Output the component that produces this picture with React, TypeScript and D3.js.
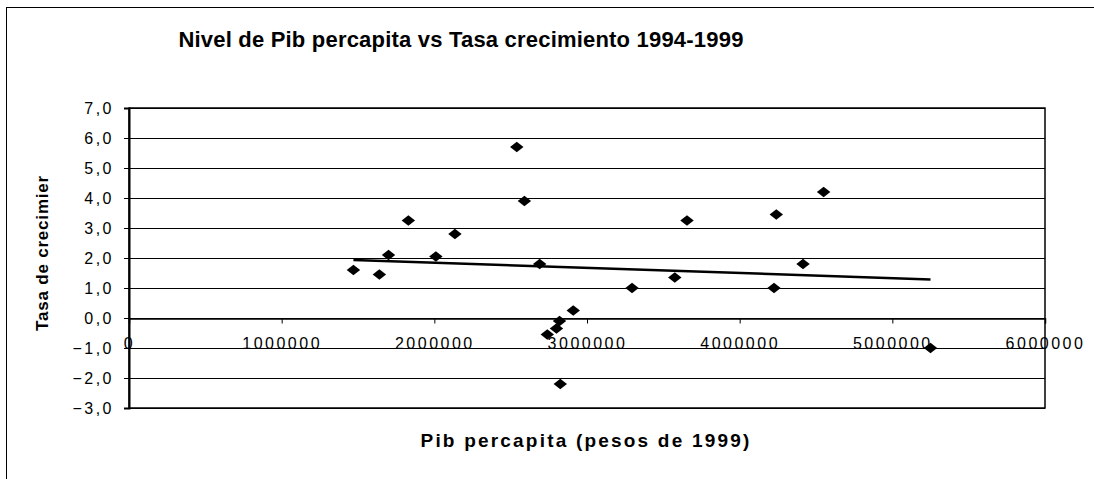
import React, { useEffect, useRef } from "react";
import * as d3 from "d3";

// Pib percapita (pesos de 1999) vs tasa de crecimiento 1994-1999
const pibValues = [
  1470000, 1640000, 1700000, 1830000, 2010000, 2135000, 2540000, 2590000,
  2690000, 2910000, 2820000, 2800000, 2740000, 2825000, 3295000, 3575000,
  3655000, 4240000, 4225000, 4415000, 4550000, 5250000,
];
const growthValues = [
  1.6, 1.45, 2.1, 3.25, 2.05, 2.8, 5.7, 3.9,
  1.8, 0.25, -0.1, -0.35, -0.55, -2.2, 1.0, 1.35,
  3.25, 3.45, 1.0, 1.8, 4.2, -1.0,
];
const yTicks = [-3, -2, -1, 0, 1, 2, 3, 4, 5, 6, 7];
const xTicks = [0, 1000000, 2000000, 3000000, 4000000, 5000000, 6000000];

const W = 1094;
const H = 479;
const margin = { left: 129, right: 49, top: 108, bottom: 71 };

// Excel-style flat diamond marker
const flatDiamond = {
  draw(ctx: any, size: number) {
    const w = Math.sqrt(size) * 0.75;
    const h = w * 0.8;
    ctx.moveTo(0, -h);
    ctx.lineTo(w, 0);
    ctx.lineTo(0, h);
    ctx.lineTo(-w, 0);
    ctx.closePath();
  },
};

function App() {
  const ref = useRef<SVGSVGElement>(null);

  useEffect(() => {
    const svg = d3.select(ref.current).attr("width", W).attr("height", H);
    svg.selectAll("*").remove();

    const font = "'Liberation Sans', Arial, sans-serif";

    svg.append("rect").attr("width", W).attr("height", H).attr("fill", "#fff");

    // chart border (cropped on right / bottom)
    svg
      .append("rect")
      .attr("x", 6.5)
      .attr("y", 7.5)
      .attr("width", W + 20)
      .attr("height", H + 20)
      .attr("fill", "none")
      .attr("stroke", "#000")
      .attr("stroke-width", 1);

    const x = d3
      .scaleLinear()
      .domain([0, 6000000])
      .range([margin.left, W - margin.right]);
    const y = d3
      .scaleLinear()
      .domain([-3, 7])
      .range([H - margin.bottom, margin.top]);

    const data = pibValues.map((p, i) => ({ x: p, y: growthValues[i] }));

    // gridlines
    svg
      .append("g")
      .selectAll("line")
      .data(yTicks)
      .enter()
      .append("line")
      .attr("x1", margin.left)
      .attr("x2", W - margin.right)
      .attr("y1", (d) => Math.round(y(d)) + 0.5)
      .attr("y2", (d) => Math.round(y(d)) + 0.5)
      .attr("stroke", "#000")
      .attr("stroke-width", 1);

    // plot frame
    svg
      .append("rect")
      .attr("x", margin.left)
      .attr("y", margin.top)
      .attr("width", W - margin.right - margin.left)
      .attr("height", H - margin.bottom - margin.top)
      .attr("fill", "none")
      .attr("stroke", "#000")
      .attr("stroke-width", 1.5);

    // y axis
    const yAxis = svg
      .append("g")
      .attr("transform", `translate(${margin.left},0)`)
      .call(
        d3
          .axisLeft(y)
          .tickValues(yTicks)
          .tickSize(5)
          .tickPadding(10)
          .tickFormat((d) => d3.format(".1f")(d as number).replace(".", ","))
      );
    yAxis.select(".domain").attr("stroke-width", 2);
    yAxis
      .selectAll("text")
      .attr("font-family", font)
      .attr("font-size", 16)
      .attr("letter-spacing", 2.5)
      .attr("fill", "#000");

    // x axis at y=0
    const xAxis = svg
      .append("g")
      .attr("transform", `translate(0,${Math.round(y(0)) + 0.5})`)
      .call(
        d3
          .axisBottom(x)
          .tickValues(xTicks)
          .tickSize(5)
          .tickPadding(14)
          .tickFormat((d) => String(d))
      );
    xAxis.select(".domain").attr("stroke-width", 1.5);
    xAxis
      .selectAll("text")
      .attr("font-family", font)
      .attr("font-size", 16)
      .attr("letter-spacing", 2.5)
      .attr("fill", "#000");

    // linear trend line
    const mx = d3.mean(data, (d) => d.x)!;
    const my = d3.mean(data, (d) => d.y)!;
    const slope =
      d3.sum(data, (d) => (d.x - mx) * (d.y - my)) /
      d3.sum(data, (d) => (d.x - mx) ** 2);
    const icpt = my - slope * mx;
    const [x0, x1] = d3.extent(data, (d) => d.x) as [number, number];
    const trend = [
      { x: x0, y: icpt + slope * x0 },
      { x: x1, y: icpt + slope * x1 },
    ];
    svg
      .append("path")
      .datum(trend)
      .attr(
        "d",
        d3
          .line<{ x: number; y: number }>()
          .x((d) => x(d.x))
          .y((d) => y(d.y))
      )
      .attr("fill", "none")
      .attr("stroke", "#000")
      .attr("stroke-width", 2.5);

    // markers
    const sym = d3.symbol().type(flatDiamond as any).size(80);
    svg
      .append("g")
      .selectAll("path")
      .data(data)
      .enter()
      .append("path")
      .attr("transform", (d) => `translate(${x(d.x)},${y(d.y)})`)
      .attr("d", sym as any)
      .attr("fill", "#000");

    // title
    svg
      .append("text")
      .attr("x", 461)
      .attr("y", 47)
      .attr("text-anchor", "middle")
      .attr("font-family", font)
      .attr("font-weight", "bold")
      .attr("font-size", 22)
      .attr("letter-spacing", 0.2)
      .text("Nivel de Pib percapita vs Tasa crecimiento 1994-1999");

    // axis titles
    svg
      .append("text")
      .attr("x", 586)
      .attr("y", 447)
      .attr("text-anchor", "middle")
      .attr("font-family", font)
      .attr("font-weight", "bold")
      .attr("font-size", 19)
      .attr("letter-spacing", 2.2)
      .text("Pib percapita (pesos de 1999)");

    svg
      .append("text")
      .attr("transform", "translate(48,253) rotate(-90)")
      .attr("text-anchor", "middle")
      .attr("font-family", font)
      .attr("font-weight", "bold")
      .attr("font-size", 17)
      .attr("letter-spacing", 0.8)
      .text("Tasa de crecimier");
  }, []);

  return (
    <svg
      ref={ref}
      style={{ position: "absolute", left: 0, top: 0, display: "block" }}
    />
  );
}

export default App;
